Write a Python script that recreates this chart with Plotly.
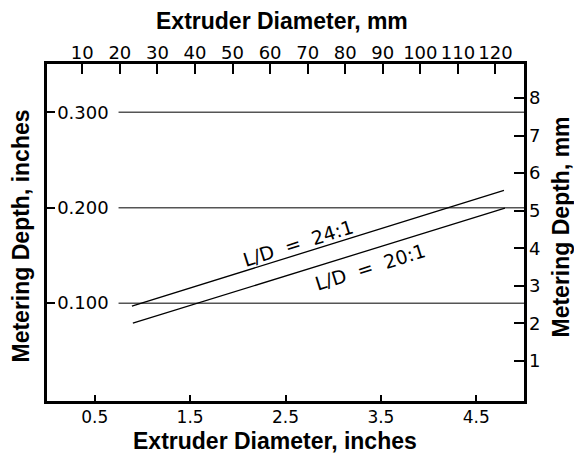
import plotly.graph_objects as go

# ---- data ----
ld24_x = [0.89, 4.79]
ld24_y = [0.097, 0.218]
ld20_x = [0.90, 4.80]
ld20_y = [0.079, 0.1995]

x_in_ticks = [0.5, 1.5, 2.5, 3.5, 4.5]
x_in_text = ["0.5", "1.5", "2.5", "3.5", "4.5"]
x_mm_ticks = [10, 20, 30, 40, 50, 60, 70, 80, 90, 100, 110, 120]
y_in_ticks = [0.1, 0.2, 0.3]
y_in_text = ["0.100", "0.200", "0.300"]
y_mm_ticks = [1, 2, 3, 4, 5, 6, 7, 8]

x_in_range = [0.0, 5.0]
x_mm_offset = 0.6
y_in_range = [-0.0025, 0.3505]
MM_PER_IN = 25.4

W, H = 574, 453
ml, mr, mt, mb = 47, 50, 64, 52

TICKFONT = dict(family="DejaVu Sans", size=18, color="black")
BOTTICKFONT = dict(family="DejaVu Sans", size=17, color="black")
TITLEFONT = dict(family="Liberation Sans, Arial, sans-serif", size=23, color="black")
LABELFONT = dict(family="DejaVu Sans", size=19, color="black")
SP = "\u00a0\u00a0"

fig = go.Figure()
fig.add_trace(go.Scatter(x=ld24_x, y=ld24_y, mode="lines",
                         line=dict(color="black", width=1.3), showlegend=False, hoverinfo="skip"))
fig.add_trace(go.Scatter(x=ld20_x, y=ld20_y, mode="lines",
                         line=dict(color="black", width=1.3), showlegend=False, hoverinfo="skip"))
# anchor trace so the secondary (mm) axes are drawn
fig.add_trace(go.Scatter(x=[None], y=[None], xaxis="x2", yaxis="y2", showlegend=False, hoverinfo="skip"))

# gridlines (start right of the tick labels drawn inside the frame)
for v in y_in_ticks:
    fig.add_shape(type="line", xref="x", yref="y", x0=0.75, x1=x_in_range[1], y0=v, y1=v,
                  line=dict(color="#555555", width=1.5), layer="below")

fig.add_annotation(x=2.635, y=0.1626, xref="x", yref="y", text="L/D" + SP + "=" + SP + "24:1",
                   showarrow=False, textangle=-17.5, font=LABELFONT)
fig.add_annotation(x=3.385, y=0.138, xref="x", yref="y", text="L/D" + SP + "=" + SP + "20:1",
                   showarrow=False, textangle=-17.5, font=LABELFONT)

pw = W - ml - mr
ph = H - mt - mb
def px(xp):
    return (xp - ml) / pw
def py(yp):
    return (H - mb - yp) / ph

fig.add_annotation(x=px(281.7), y=py(21), xref="paper", yref="paper", text="<b>Extruder Diameter, mm</b>",
                   showarrow=False, font=TITLEFONT, xanchor="center", yanchor="middle")
fig.add_annotation(x=px(275), y=py(441), xref="paper", yref="paper", text="<b>Extruder Diameter, inches</b>",
                   showarrow=False, font=TITLEFONT, xanchor="center", yanchor="middle")
fig.add_annotation(x=px(20), y=py(236.5), xref="paper", yref="paper", text="<b>Metering Depth, inches</b>",
                   showarrow=False, font=TITLEFONT, textangle=-90, xanchor="center", yanchor="middle")
fig.add_annotation(x=px(560), y=py(227.5), xref="paper", yref="paper", text="<b>Metering Depth, mm</b>",
                   showarrow=False, font=TITLEFONT, textangle=-90, xanchor="center", yanchor="middle")

fig.update_layout(
    width=W, height=H,
    margin=dict(l=ml, r=mr, t=mt, b=mb, pad=0),
    paper_bgcolor="white", plot_bgcolor="white",
    xaxis=dict(range=x_in_range, tickvals=x_in_ticks, ticktext=x_in_text, ticks="inside", ticklen=6,
               tickwidth=1.5, tickcolor="black", showline=True, linewidth=2.5, linecolor="black",
               mirror=True, showgrid=False, zeroline=False, tickfont=BOTTICKFONT,
               ticklabelstandoff=-1),
    xaxis2=dict(overlaying="x", side="top", anchor="y",
                range=[x_in_range[0] * MM_PER_IN + x_mm_offset, x_in_range[1] * MM_PER_IN + x_mm_offset],
                tickvals=x_mm_ticks, ticks="inside", ticklen=10, tickwidth=1.5, tickcolor="black",
                showline=False, showgrid=False, zeroline=False, tickfont=TICKFONT),
    yaxis=dict(range=y_in_range, tickvals=y_in_ticks, ticktext=y_in_text, ticks="inside", ticklen=8,
               tickwidth=1.5, tickcolor="black", ticklabelposition="outside", ticklabelstandoff=-68,
               showline=True, linewidth=2.5, linecolor="black", mirror=True, showgrid=False,
               zeroline=False, tickfont=TICKFONT),
    yaxis2=dict(overlaying="y", side="right", anchor="x",
                range=[y_in_range[0] * MM_PER_IN, y_in_range[1] * MM_PER_IN],
                tickvals=y_mm_ticks, ticks="inside", ticklen=10, tickwidth=1.5, tickcolor="black",
                ticklabelstandoff=4,
                showline=False, showgrid=False, zeroline=False, tickfont=TICKFONT),
)

fig.write_html("out.html", config={"displayModeBar": False},
               post_script="document.body.style.margin='0';document.body.style.padding='0';")
